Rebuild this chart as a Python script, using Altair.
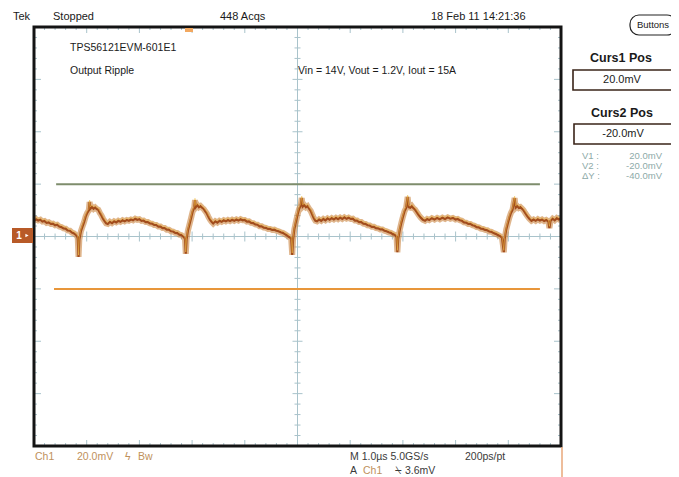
import altair as alt
import pandas as pd

# ---------------- data ----------------
# time in microseconds, voltage in mV (Ch1, 20 mV/div, 1 us/div)
T = [-5.00, -4.96, -4.92, -4.88, -4.84, -4.80, -4.76, -4.72, -4.68, -4.64, -4.60, -4.56, -4.52, -4.48,
     -4.44, -4.40, -4.36, -4.32, -4.28, -4.24, -4.20, -4.17, -4.155, -4.14, -4.11, -4.08, -4.05, -4.02,
     -3.99, -3.96, -3.945, -3.93, -3.90, -3.87, -3.84, -3.81, -3.78, -3.75, -3.72, -3.69, -3.66, -3.63,
     -3.60, -3.56, -3.52, -3.48, -3.44, -3.40, -3.36, -3.32, -3.28, -3.24, -3.20, -3.16, -3.12, -3.08,
     -3.04, -3.00, -2.96, -2.92, -2.88, -2.84, -2.80, -2.76, -2.72, -2.68, -2.64, -2.60, -2.56, -2.52,
     -2.48, -2.44, -2.40, -2.36, -2.32, -2.28, -2.24, -2.20, -2.16, -2.135, -2.12, -2.105, -2.08, -2.05,
     -2.02, -1.99, -1.96, -1.945, -1.93, -1.90, -1.87, -1.84, -1.81, -1.78, -1.75, -1.72, -1.69, -1.66,
     -1.63, -1.60, -1.56, -1.52, -1.48, -1.44, -1.40, -1.36, -1.32, -1.28, -1.24, -1.20, -1.16, -1.12,
     -1.08, -1.04, -1.00, -0.96, -0.92, -0.88, -0.84, -0.80, -0.76, -0.72, -0.68, -0.64, -0.60, -0.56,
     -0.52, -0.48, -0.44, -0.40, -0.36, -0.32, -0.28, -0.24, -0.20, -0.16, -0.12, -0.10, -0.085, -0.06,
     -0.03, 0.00, 0.03, 0.06, 0.08, 0.10, 0.13, 0.16, 0.19, 0.22, 0.25, 0.28, 0.31, 0.34,
     0.37, 0.41, 0.45, 0.49, 0.53, 0.57, 0.61, 0.65, 0.69, 0.73, 0.77, 0.81, 0.85, 0.89,
     0.93, 0.97, 1.01, 1.05, 1.09, 1.13, 1.17, 1.21, 1.25, 1.29, 1.33, 1.37, 1.41, 1.45,
     1.49, 1.53, 1.57, 1.61, 1.65, 1.69, 1.73, 1.77, 1.81, 1.85, 1.88, 1.895, 1.91, 1.94,
     1.97, 2.00, 2.03, 2.06, 2.09, 2.11, 2.14, 2.17, 2.20, 2.23, 2.26, 2.30, 2.34, 2.38,
     2.42, 2.46, 2.50, 2.55, 2.60, 2.65, 2.70, 2.75, 2.80, 2.85, 2.90, 2.95, 3.00, 3.04,
     3.08, 3.12, 3.16, 3.20, 3.24, 3.28, 3.32, 3.36, 3.40, 3.44, 3.48, 3.52, 3.56, 3.60,
     3.64, 3.68, 3.72, 3.76, 3.80, 3.84, 3.88, 3.915, 3.93, 3.96, 3.99, 4.02, 4.05, 4.08,
     4.12, 4.14, 4.17, 4.20, 4.23, 4.26, 4.29, 4.32, 4.36, 4.40, 4.44, 4.48, 4.52, 4.56,
     4.60, 4.64, 4.68, 4.72, 4.76, 4.78, 4.80, 4.84, 4.88, 4.92, 4.96, 5.00]
V = [6.0, 6.6, 6.1, 6.4, 5.7, 5.9, 5.2, 5.4, 4.8, 4.9, 4.3, 4.5, 3.8, 3.6,
     3.1, 3.0, 2.3, 2.2, 1.5, 1.2, 0.5, -0.4, -7.8, -1.2, 2.0, 3.8, 5.5, 7.6,
     9.0, 10.0, 13.2, 10.6, 11.3, 10.6, 11.1, 10.5, 10.2, 9.0, 8.0, 6.8, 5.9, 5.0,
     4.8, 5.6, 5.1, 5.8, 5.4, 6.0, 5.6, 6.2, 5.8, 6.3, 6.0, 6.5, 6.2, 6.8,
     6.4, 6.6, 6.0, 6.1, 5.5, 5.5, 5.0, 4.9, 4.4, 4.4, 3.8, 3.8, 3.2, 3.2,
     2.6, 2.6, 2.0, 1.9, 1.4, 1.3, 0.7, 0.5, -0.2, -0.8, -6.6, -1.2, 2.2, 4.6,
     7.0, 9.5, 11.0, 13.9, 11.2, 12.0, 11.2, 11.6, 11.0, 10.5, 9.6, 8.8, 7.5, 6.4,
     5.6, 5.0, 5.8, 5.3, 6.0, 5.6, 6.2, 5.8, 6.3, 5.9, 6.4, 6.0, 6.5, 6.1,
     6.6, 6.2, 6.3, 5.7, 5.8, 5.2, 5.1, 4.6, 4.5, 3.9, 3.9, 3.4, 3.3, 2.9,
     2.9, 2.5, 2.6, 2.2, 2.0, 1.6, 1.4, 0.9, 0.4, -0.2, -0.7, -7.0, -1.3, 2.8,
     5.6, 8.2, 10.5, 11.8, 14.7, 11.4, 12.0, 11.2, 11.6, 10.6, 9.8, 8.4, 7.0, 6.0,
     5.8, 6.5, 6.0, 6.7, 6.2, 6.9, 6.4, 7.0, 6.5, 7.1, 6.6, 7.2, 6.7, 7.3,
     6.8, 7.2, 6.7, 6.8, 6.1, 6.1, 5.5, 5.5, 4.9, 4.8, 4.3, 4.2, 3.7, 3.7,
     3.2, 3.1, 2.7, 2.7, 2.2, 2.0, 1.6, 1.4, 0.9, 0.6, -0.2, -6.0, -1.0, 2.5,
     5.2, 7.5, 9.6, 10.8, 15.1, 11.2, 11.0, 11.6, 10.8, 10.3, 9.4, 8.2, 7.2, 6.4,
     6.0, 6.7, 6.3, 7.0, 6.5, 7.1, 6.6, 7.2, 6.7, 7.3, 6.8, 7.1, 6.5, 6.7,
     6.2, 6.0, 5.4, 5.3, 4.8, 4.8, 4.3, 4.1, 3.6, 3.5, 3.0, 2.9, 2.5, 2.4,
     1.9, 1.8, 1.3, 1.0, 0.6, 0.2, -0.4, -6.0, -1.0, 2.6, 5.0, 7.2, 9.0, 10.2,
     14.7, 11.0, 11.6, 10.9, 11.2, 10.6, 10.0, 9.0, 7.8, 6.8, 6.0, 6.5, 6.0, 6.6,
     6.1, 6.5, 5.9, 6.3, 5.8, 3.2, 5.9, 6.8, 6.2, 7.0, 6.5, 6.8]

CURSOR_MV = [20.0, -20.0]          # Curs1, Curs2
CURSOR_T0 = [-4.58, -4.62]
CURSOR_T1 = [4.6, 4.6]

TOP_TEXT = ["Tek", "Stopped", "448 Acqs", "18 Feb 11 14:21:36"]
PLOT_TEXT = ["TPS56121EVM-601E1", "Output Ripple", "Vin = 14V, Vout = 1.2V, Iout = 15A"]
SIDE_TEXT = ["Buttons", "Curs1 Pos", "20.0mV", "Curs2 Pos", "-20.0mV"]
READOUT_LABELS = ["V1 :", "V2 :", "\u0394Y :"]
READOUT_VALUES = ["20.0mV", "-20.0mV", "-40.0mV"]
BOTTOM_TEXT = ["Ch1", "20.0mV", "\u03df", "Bw", "M 1.0\u00b5s 5.0GS/s", "200ps/pt", "A", "Ch1", "\u2340", "3.6mV"]

# ---------------- layout ----------------
W, H = 527, 419
CX, CY = W / 2, H / 2
FONT = "Liberation Sans"
GRID = "#a9c3cb"
xs = alt.Scale(domain=[-5, 5], nice=False, zero=False)
ys = alt.Scale(domain=[-80, 80], nice=False, zero=False)

X_TICKS = [round(-5 + 0.2 * i, 2) for i in range(1, 50)]
Y_TICKS = [round(-80 + 4 * i, 1) for i in range(1, 40)]
xt = pd.DataFrame({"t": X_TICKS, "major": [abs(t - round(t)) < 1e-6 for t in X_TICKS]})
yt = pd.DataFrame({"v": Y_TICKS, "major": [abs(v / 20 - round(v / 20)) < 1e-6 for v in Y_TICKS]})
one = pd.DataFrame({"d": [0]})


def rule_px(x, x2, y, y2, color, width=1.0):
    return alt.Chart(one).mark_rule(color=color, strokeWidth=width).encode(
        x=alt.value(x), x2=alt.value(x2), y=alt.value(y), y2=alt.value(y2))


def rect_px(x, x2, y, y2, fill, stroke=None, sw=0, radius=0, fill_opacity=1.0):
    kw = dict(fill=fill, fillOpacity=fill_opacity, strokeWidth=sw, cornerRadius=radius)
    if stroke:
        kw["stroke"] = stroke
    return alt.Chart(one).mark_rect(**kw).encode(
        x=alt.value(x), x2=alt.value(x2), y=alt.value(y), y2=alt.value(y2))


def label(s, x, y, size=11, color="#1a1a1a", align="left", weight="normal"):
    return alt.Chart(pd.DataFrame({"s": [s]})).mark_text(
        align=align, baseline="middle", fontSize=size, color=color, fontWeight=weight, font=FONT
    ).encode(x=alt.value(x), y=alt.value(y), text="s:N")


def xticks(major, y0, y1):
    d = xt[xt["major"] == major]
    return alt.Chart(d).mark_rule(color=GRID, strokeWidth=1).encode(
        x=alt.X("t:Q", scale=xs, axis=None), y=alt.value(y0), y2=alt.value(y1))


def yticks(major, x0, x1):
    d = yt[yt["major"] == major]
    return alt.Chart(d).mark_rule(color=GRID, strokeWidth=1).encode(
        y=alt.Y("v:Q", scale=ys, axis=None), x=alt.value(x0), x2=alt.value(x1))


layers = []
# graticule: centre cross and ticks
layers.append(rule_px(CX, CX, 0, H, GRID))
layers.append(rule_px(0, W, CY, CY, GRID))
layers += [xticks(False, 0, 3), xticks(True, 0, 6), xticks(False, H, H - 3), xticks(True, H, H - 6),
           xticks(False, CY - 3, CY + 3), xticks(True, CY - 5, CY + 5),
           yticks(False, 0, 3), yticks(True, 0, 7), yticks(False, W, W - 3), yticks(True, W, W - 7),
           yticks(False, CX - 3, CX + 3), yticks(True, CX - 5, CX + 5)]

# cursors
cur = pd.DataFrame({"v": CURSOR_MV, "t0": CURSOR_T0, "t1": CURSOR_T1})
for i, col in enumerate(["#7e8d6c", "#e8963a"]):
    layers.append(alt.Chart(cur.iloc[[i]]).mark_rule(color=col, strokeWidth=2).encode(
        x=alt.X("t0:Q", scale=xs, axis=None), x2="t1:Q", y=alt.Y("v:Q", scale=ys, axis=None)))

# trace
df = pd.DataFrame({"t": T, "v": V})
base = alt.Chart(df).encode(x=alt.X("t:Q", scale=xs, axis=None), y=alt.Y("v:Q", scale=ys, axis=None))
layers.append(base.mark_line(color="#c98440", strokeWidth=6, opacity=0.6, clip=True))
layers.append(base.mark_line(color="#a24c1c", strokeWidth=2.2, clip=True))
layers.append(base.mark_line(color="#f0be48", strokeWidth=0.8, opacity=0.7, yOffset=-1.8, clip=True))

# frame
layers.append(rect_px(0, W, 0, H, "white", "#141414", 3, fill_opacity=0))
layers.append(rule_px(W + 1, W + 1, H + 1, H + 32, "#e8a77a", 1.5))
# trigger marker at top
layers.append(rect_px(151, 159, 1, 5, "#f2a860"))
# channel 1 ground marker
layers.append(rect_px(-22, -1, 201, 216, "#b85a28"))
layers.append(label("1", -15, 208.5, size=10, color="white", align="center", weight="bold"))
layers.append(alt.Chart(one).mark_point(shape="triangle-right", filled=True, color="white", size=14, opacity=1)
              .encode(x=alt.value(-7), y=alt.value(208.5)))

# top status line
for s, x in zip(TOP_TEXT, [-21, 19, 186, 397]):
    layers.append(label(s, x, -10, size=11))
# in-plot notes
for s, x, y in zip(PLOT_TEXT, [36, 36, 264], [21, 44, 44]):
    layers.append(label(s, x, y, size=10.5))

# side panel
layers.append(rect_px(596, 642, -12, 8, "white", "#222222", 1.2, radius=9))
layers.append(label(SIDE_TEXT[0], 619, -2, size=9.5, align="center"))
layers.append(label(SIDE_TEXT[1], 587, 31, size=12.5, align="center", weight="bold"))
layers.append(rect_px(539, 638, 43, 63, "white", "#3a2418", 1.6))
layers.append(label(SIDE_TEXT[2], 588, 53, size=11, align="center"))
layers.append(label(SIDE_TEXT[3], 588, 86, size=12.5, align="center", weight="bold"))
layers.append(rect_px(540, 638, 97, 117, "white", "#3a2418", 1.6))
layers.append(label(SIDE_TEXT[4], 589, 107, size=11, align="center"))
for i, (a, b) in enumerate(zip(READOUT_LABELS, READOUT_VALUES)):
    layers.append(label(a, 548, 129 + 10 * i, size=9.5, color="#8eaaa8"))
    layers.append(label(b, 628, 129 + 10 * i, size=9.5, color="#8eaaa8", align="right"))

# bottom readouts
TAN = "#c0915c"
DARK = "#3a3a3a"
bx = [1, 43, 91, 104, 316, 431, 316, 329, 361, 371]
by = [430, 430, 430, 430, 430, 430, 444, 444, 444, 444]
bc = [TAN, TAN, TAN, TAN, DARK, DARK, DARK, TAN, DARK, DARK]
for s, x, y, c in zip(BOTTOM_TEXT, bx, by, bc):
    layers.append(label(s, x, y, size=10.5, color=c))

chart = alt.layer(*layers).properties(
    width=W, height=H,
    padding={"left": 26, "top": 19, "right": 110, "bottom": 31},
    autosize=alt.AutoSizeParams(type="none"),
    background="white",
).configure_view(strokeWidth=0)

chart.save("out.html", embed_options={"renderer": "svg", "actions": False})
